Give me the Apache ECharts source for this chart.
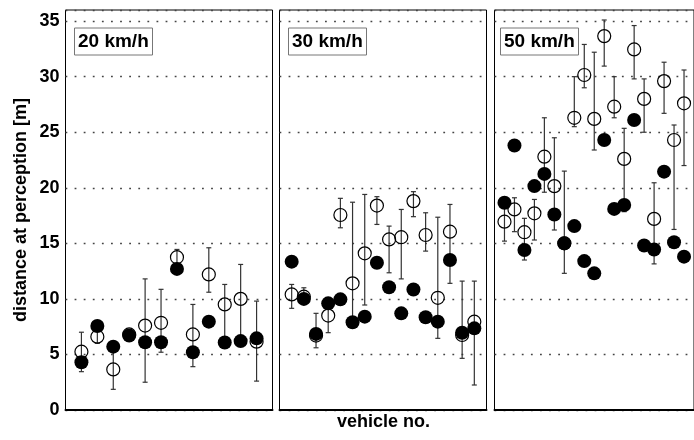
<!DOCTYPE html>
<html>
<head>
<meta charset="utf-8">
<script src="https://cdn.jsdelivr.net/npm/echarts@6/dist/echarts.min.js"></script>
<style>
  html, body { margin: 0; padding: 0; background: #fff; }
  #chart { width: 694px; height: 440px; }
</style>
</head>
<body>
<div id="chart"></div>
<script>
// panel labels
var speeds = ['20 km/h', '30 km/h', '50 km/h'];

// 20 km/h
var open20   = [5.25, 6.6, 3.65, 6.8, 7.6, 7.85, 13.75, 6.8, 12.2, 9.5, 10.0, 6.15];
var filled20 = [4.3, 7.56, 5.7, 6.7, 6.1, 6.1, 12.7, 5.2, 7.95, 6.08, 6.2, 6.45];
var lo20     = [3.45, 6.0, 1.86, 6.5, 2.5, 5.2, 13.2, 3.9, 10.6, 6.5, 6.5, 2.6];
var hi20     = [7.0, 7.3, 5.5, 7.0, 11.8, 10.86, 14.45, 9.5, 14.6, 11.3, 13.1, 9.8];

// 30 km/h
var open30   = [10.4, 10.2, 6.7, 8.5, 17.55, 11.4, 14.1, 18.4, 15.35, 15.55, 18.8, 15.75, 10.1, 16.05, 6.75, 7.95];
var filled30 = [13.35, 10.0, 6.85, 9.6, 9.96, 7.9, 8.4, 13.25, 11.05, 8.7, 10.85, 8.35, 7.95, 13.5, 6.95, 7.35];
var lo30     = [9.15, 9.5, 5.6, 6.96, 16.4, 7.5, 9.45, 16.7, 12.35, 11.8, 17.4, 14.3, 6.45, 11.4, 4.65, 2.25];
var hi30     = [11.3, 11.0, 8.7, 9.7, 19.05, 18.7, 19.4, 19.2, 16.55, 18.05, 19.65, 17.75, 17.35, 18.5, 11.6, 11.6];

// 50 km/h
var open50   = [16.95, 18.05, 16.0, 17.7, 22.8, 20.15, 15.0, 26.3, 30.15, 26.2, 33.65, 27.3, 22.6, 32.45, 28.0, 17.2, 29.6, 24.3, 27.6];
var filled50 = [18.65, 23.8, 14.4, 20.15, 21.25, 17.6, 15.0, 16.55, 13.4, 12.3, 24.3, 18.1, 18.45, 26.1, 14.8, 14.45, 21.45, 15.1, 13.8];
var lo50     = [15.2, 16.05, 13.5, 15.3, 19.6, 16.2, 12.3, 25.5, 29.0, 23.4, 30.95, 26.3, 17.85, 29.8, 25.0, 13.15, 26.7, 16.25, 22.0];
var hi50     = [18.5, 19.1, 17.25, 18.95, 26.3, 24.5, 21.5, 30.0, 32.9, 32.2, 35.1, 30.0, 25.35, 34.6, 29.8, 20.45, 31.3, 25.65, 30.6];

var yTicks = [0, 5, 10, 15, 20, 25, 30, 35];

var panels = [
  { open: open20, filled: filled20, lo: lo20, hi: hi20 },
  { open: open30, filled: filled30, lo: lo30, hi: hi30 },
  { open: open50, filled: filled50, lo: lo50, hi: hi50 }
];
var lefts = [65.5, 279.5, 494.5];
var FONT = 'Liberation Sans, Arial, sans-serif';

var myChart = echarts.init(document.getElementById('chart'));

var grids = [], xAxes = [], yAxes = [], series = [], titles = [];
panels.forEach(function (p, k) {
  var n = p.open.length;
  grids.push({ left: lefts[k], top: 10, width: 207, height: 400, show: true,
    borderColor: '#000', borderWidth: 1, backgroundColor: 'transparent' });
  xAxes.push({ type: 'value', gridIndex: k, min: 0, max: n + 1,
    axisLine: { show: true, lineStyle: { color: '#000', width: 2 } },
    axisTick: { show: false }, axisLabel: { show: false }, splitLine: { show: false } });
  yAxes.push({ type: 'value', gridIndex: k, min: 0, max: 36, interval: 5,
    axisLine: { show: false }, axisTick: { show: false },
    axisLabel: { show: k === 0, margin: 6, color: '#000', fontSize: 18, fontWeight: 'bold', fontFamily: FONT,
      formatter: function (v) { return yTicks.indexOf(v) >= 0 ? String(v) : ''; } },
    splitLine: { show: true, lineStyle: { color: '#444', width: 1.4, type: [1.8, 7.3] } } });

  var bars = p.lo.map(function (v, i) { return [i + 1, v, p.hi[i]]; });
  series.push({
    type: 'custom', xAxisIndex: k, yAxisIndex: k, z: 2, data: bars,
    renderItem: function (params, api) {
      var a = api.coord([api.value(0), api.value(1)]);
      var b = api.coord([api.value(0), api.value(2)]);
      var w = 2.5, st = { stroke: '#333', lineWidth: 1.2 };
      return { type: 'group', children: [
        { type: 'line', shape: { x1: a[0], y1: a[1], x2: b[0], y2: b[1] }, style: st },
        { type: 'line', shape: { x1: a[0] - w, y1: a[1], x2: a[0] + w, y2: a[1] }, style: st },
        { type: 'line', shape: { x1: b[0] - w, y1: b[1], x2: b[0] + w, y2: b[1] }, style: st }
      ] };
    }
  });
  series.push({
    type: 'scatter', xAxisIndex: k, yAxisIndex: k, z: 3, symbol: 'circle', symbolSize: 13,
    itemStyle: { color: 'rgba(0,0,0,0)', borderColor: '#000', borderWidth: 1.2, opacity: 1 },
    data: p.open.map(function (v, i) { return [i + 1, v]; })
  });
  series.push({
    type: 'scatter', xAxisIndex: k, yAxisIndex: k, z: 4, symbol: 'circle', symbolSize: 14,
    itemStyle: { color: '#000', opacity: 1 },
    data: p.filled.map(function (v, i) { return [i + 1, v]; })
  });
  titles.push({ text: speeds[k], left: lefts[k] + (k === 2 ? 5.5 : 8.5), top: 27.5,
    padding: [5, 4, 4, 4], borderColor: '#777', borderWidth: 1, backgroundColor: '#fff',
    textStyle: { fontSize: 19, fontWeight: 'bold', color: '#000', fontFamily: FONT } });
});

var option = {
  animation: false,
  backgroundColor: '#fff',
  title: titles,
  grid: grids,
  xAxis: xAxes,
  yAxis: yAxes,
  series: series,
  graphic: [
    { type: 'text', left: 12, top: 98, rotation: Math.PI / 2,
      style: { text: 'distance at perception [m]', font: 'bold 18px ' + FONT, fill: '#000' } },
    { type: 'text', left: 337, top: 413,
      style: { text: 'vehicle no.', font: 'bold 18px ' + FONT, fill: '#000' } }
  ]
};
myChart.setOption(option);
</script>
</body>
</html>
